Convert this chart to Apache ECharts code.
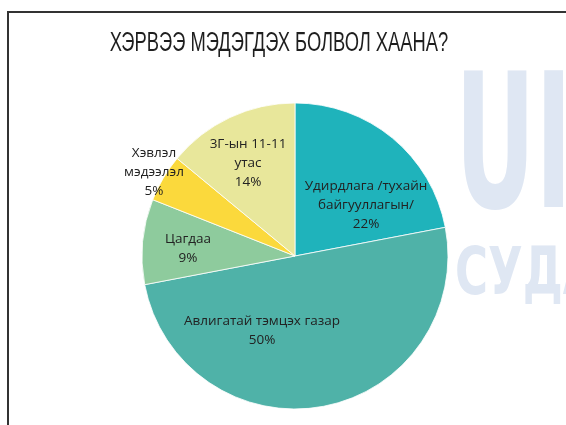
<!DOCTYPE html>
<html>
<head>
<meta charset="utf-8">
<script src="https://cdn.jsdelivr.net/npm/echarts@6/dist/echarts.min.js"></script>
<style>
  html, body { margin: 0; padding: 0; background: #fff; }
  #chart { width: 566px; height: 425px; }
</style>
</head>
<body>
<div id="chart"></div>
<script>
// 分类与数值
var names = [
  "Удирдлага /тухайн\nбайгууллагын/",
  "Авлигатай тэмцэх газар",
  "Цагдаа",
  "Хэвлэл\nмэдээлэл",
  "3Г-ын 11-11\nутас"
];
var values = [22, 50, 9, 5, 14];
var colors = ["#1fb3bb", "#4fb2a8", "#8ecb9d", "#fbd93c", "#e8e79b"];
var titleText = "ХЭРВЭЭ МЭДЭГДЭХ БОЛВОЛ ХААНА?";

// 标签位置 (像素)
var labelPos = [
  [366, 205],
  [262, 331],
  [188, 249],
  [154, 172],
  [248, 163]
];

var chart = echarts.init(document.getElementById("chart"));

var option = {
  backgroundColor: "#fff",
  animation: false,
  graphic: [
    // 背景水印
    {
      type: "text",
      x: 455, y: 158,
      scaleY: 1.7,
      z: -10,
      style: {
        text: "UI",
        fill: "#dfe7f3",
        font: "bold 110px 'DejaVu Sans Condensed', sans-serif",
        verticalAlign: "middle",
        align: "left"
      }
    },
    {
      type: "text",
      x: 455, y: 277,
      scaleY: 1.3,
      z: -10,
      style: {
        text: "СУДА",
        fill: "#dfe7f3",
        font: "bold 50px 'DejaVu Sans Condensed', sans-serif",
        verticalAlign: "middle",
        align: "left"
      }
    },
    // 标题 (压缩字体)
    {
      type: "text",
      x: 279, y: 44,
      scaleX: 0.68,
      z: 10,
      style: {
        text: titleText,
        fill: "#1e1e1e",
        font: "27px 'Liberation Sans', Arial, sans-serif",
        verticalAlign: "middle",
        align: "center"
      }
    },
    // 边框
    {
      type: "polyline",
      z: 10,
      shape: { points: [[8, 425], [8, 12], [566, 12]] },
      style: { stroke: "#333", lineWidth: 2, fill: null }
    }
  ],
  series: [
    {
      type: "pie",
      center: [295, 256],
      radius: 153,
      startAngle: 90,
      clockwise: true,
      data: names.map(function (n, i) {
        return { name: n, value: values[i], itemStyle: { color: colors[i] } };
      }),
      itemStyle: {
        borderColor: "rgba(255,255,255,0.8)",
        borderWidth: 1
      },
      label: {
        show: true,
        position: "inside",
        formatter: "{b}\n{d}%",
        color: "#222",
        fontFamily: "'Open Sans', 'Noto Sans', sans-serif",
        fontSize: 13.5,
        lineHeight: 19,
        align: "center"
      },
      labelLine: { show: false },
      labelLayout: function (params) {
        var p = labelPos[params.dataIndex];
        return { x: p[0], y: p[1], align: "center", verticalAlign: "middle" };
      },
      emphasis: { disabled: true }
    }
  ]
};

chart.setOption(option);
</script>
</body>
</html>
